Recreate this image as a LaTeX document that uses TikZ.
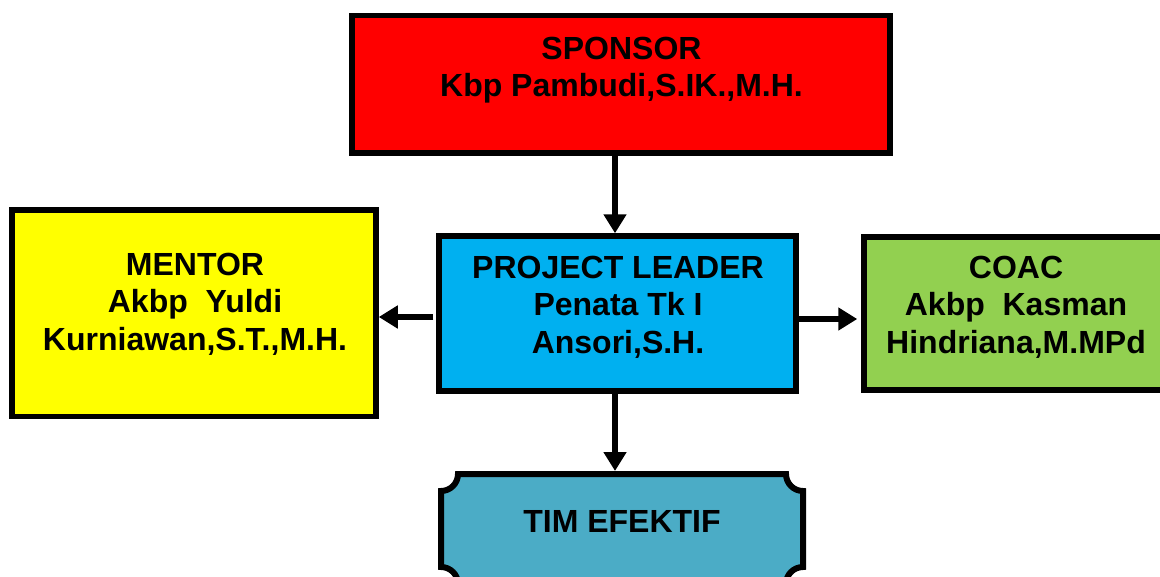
\documentclass[tikz,border=0pt]{standalone}
\usepackage{fontspec}
\setmainfont{Liberation Sans}
\usetikzlibrary{arrows.meta}
\definecolor{sponsorred}{RGB}{255,0,0}
\definecolor{mentoryellow}{RGB}{255,255,0}
\definecolor{plblue}{RGB}{0,176,240}
\definecolor{coacgreen}{RGB}{146,208,80}
\definecolor{timteal}{RGB}{75,172,198}
\begin{document}
\begin{tikzpicture}[x=1pt, y=1pt,
		box/.style={draw=black, line width=5.5pt, inner sep=0pt},
		lbl/.style={align=center, font=\bfseries\fontsize{32}{37.5}\selectfont},
		arr/.style={line width=6pt, -{Triangle[length=19pt,width=22pt]}}]
	\clip (0,0) rectangle (1160,-576);
	% boxes
	\node[box, fill=sponsorred, minimum width=538pt, minimum height=137.5pt] (sponsor) at (621,-84.25) {};
	\node[box, fill=mentoryellow, minimum width=364pt, minimum height=206.5pt] (mentor) at (194,-313.25) {};
	\node[box, fill=plblue, minimum width=357pt, minimum height=155pt] (pl) at (617.5,-313.5) {};
	\node[box, fill=coacgreen, minimum width=304pt, minimum height=153pt] (coac) at (1016,-313.5) {};
	\draw[fill=timteal, line width=6pt] (441,-567) -- (441,-491) arc[start angle=270, end angle=360, radius=17]
		-- (786,-474) arc[start angle=180, end angle=270, radius=17]
		-- (803,-567) arc[start angle=90, end angle=180, radius=17]
		-- (458,-584) arc[start angle=0, end angle=90, radius=17] -- cycle;
	\coordinate (timtop) at (615,-471);
	% texts
	\node[lbl] (sponsor text) at (621.5,-70) {SPONSOR\\Kbp Pambudi,S.IK.,M.H.};
	\node[lbl] (mentor text) at (195,-304) {MENTOR\\Akbp~~Yuldi\\Kurniawan,S.T.,M.H.};
	\node[lbl] (pl text) at (618,-307) {PROJECT LEADER\\Penata Tk I\\Ansori,S.H.};
	\node[lbl] (coac text) at (1016,-307) {COAC\\Akbp~~Kasman\\Hindriana,M.MPd};
	\node[lbl] (tim text) at (622,-521.5) {TIM EFEKTIF};
	% arrows
	\draw[arr] ([xshift=-6pt]sponsor.south) -- ([xshift=-6pt]sponsor.south |- pl.north);
	\draw[arr, shorten <=3pt] ([yshift=-3.5pt]pl.west) -- ([yshift=-3.5pt]pl.west -| mentor.east);
	\draw[arr, shorten >=4pt] ([yshift=-5.5pt]pl.east) -- ([yshift=-5.5pt]pl.east -| coac.west);
	\draw[arr] ([xshift=-2.5pt]pl.south) -- (timtop);
\end{tikzpicture}
\end{document}
